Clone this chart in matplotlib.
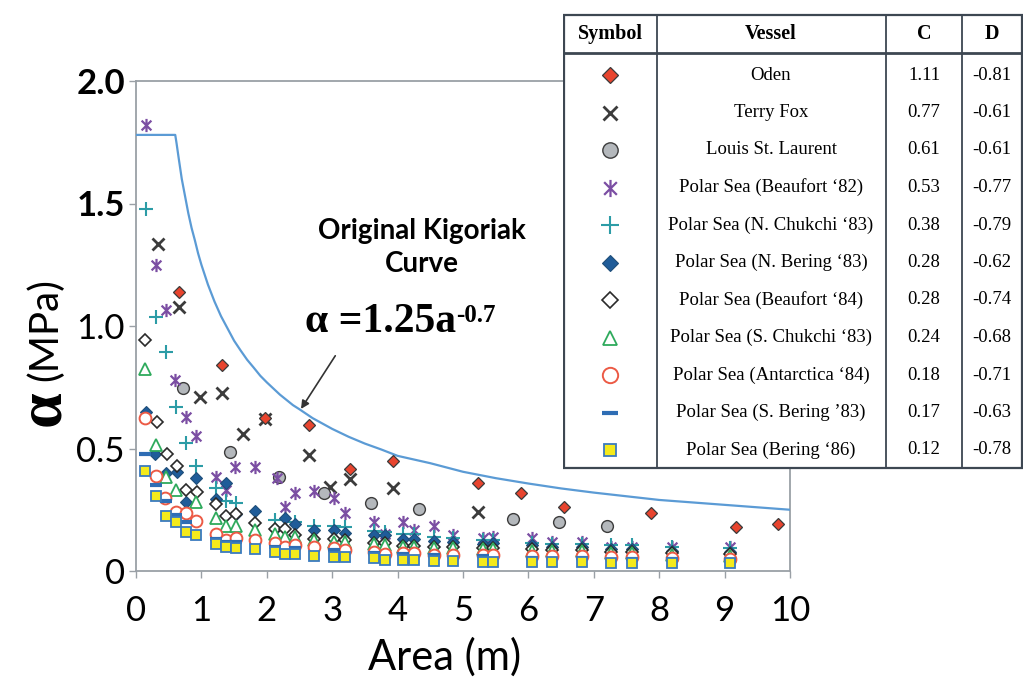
import matplotlib
matplotlib.use("Agg")
import matplotlib.pyplot as plt
from matplotlib.path import Path
from matplotlib.patches import Rectangle

# ---- data ----
curve_x = [0, 0.6, 0.62, 0.65, 0.7, 0.75, 0.8, 0.85, 0.9, 0.95, 1.0, 1.1, 1.2, 1.3, 1.4, 1.5, 1.6, 1.7, 1.8, 1.9,
           2.0, 2.2, 2.4, 2.5, 2.7, 3.0, 3.25, 3.5, 3.75, 4.0, 4.5, 5, 5.5, 6, 6.5, 7, 7.5, 8, 9, 10]
curve_y = [1.78, 1.78, 1.746, 1.69, 1.60, 1.53, 1.46, 1.40, 1.35, 1.296, 1.25, 1.169, 1.10, 1.04, 0.99, 0.94, 0.90,
           0.862, 0.83, 0.797, 0.77, 0.72, 0.677, 0.66, 0.624, 0.58, 0.548, 0.52, 0.496, 0.47, 0.44, 0.405, 0.379,
           0.357, 0.337, 0.32, 0.305, 0.29, 0.27, 0.25]

oden_x = [0.66, 1.32, 1.97, 2.64, 3.27, 3.93, 5.23, 5.89, 6.55, 7.87, 9.17, 9.82]
oden_y = [1.14, 0.84, 0.625, 0.596, 0.415, 0.449, 0.36, 0.32, 0.262, 0.235, 0.18, 0.19]

terry_x = [0.33, 0.66, 0.98, 1.32, 1.64, 1.97, 2.64, 2.96, 3.27, 3.93, 5.23]
terry_y = [1.335, 1.076, 0.711, 0.725, 0.559, 0.62, 0.473, 0.342, 0.376, 0.337, 0.242]

louis_x = [0.72, 1.44, 2.18, 2.88, 3.60, 4.33, 5.76, 6.47, 7.20]
louis_y = [0.746, 0.487, 0.382, 0.32, 0.279, 0.254, 0.213, 0.198, 0.184]

bf82_x = [0.15, 0.31, 0.46, 0.60, 0.76, 0.92, 1.22, 1.38, 1.51, 1.82, 2.16, 2.28, 2.43, 2.72, 3.03, 3.19,
          3.64, 3.80, 4.09, 4.25, 4.55, 4.85, 5.30, 5.46, 6.05, 6.36, 6.82, 7.27, 7.58, 8.19, 9.08]
bf82_y = [1.82, 1.25, 1.065, 0.78, 0.627, 0.551, 0.385, 0.33, 0.426, 0.423, 0.38, 0.262, 0.32, 0.326, 0.297, 0.236,
          0.201, 0.15, 0.201, 0.167, 0.184, 0.147, 0.136, 0.14, 0.136, 0.117, 0.12, 0.1, 0.1, 0.097, 0.097]

nch_x = [0.15, 0.30, 0.46, 0.61, 0.76, 0.92, 1.22, 1.38, 1.53, 2.13, 2.43, 2.72, 3.03, 3.19,
         3.64, 3.80, 4.09, 4.25, 4.55, 4.85, 5.30, 5.46, 6.05, 6.36, 6.82, 7.27, 7.58, 8.19, 9.08]
nch_y = [1.476, 1.035, 0.893, 0.67, 0.524, 0.43, 0.337, 0.285, 0.276, 0.21, 0.2, 0.185, 0.185, 0.18,
         0.165, 0.16, 0.15, 0.15, 0.14, 0.135, 0.125, 0.125, 0.115, 0.11, 0.11, 0.105, 0.105, 0.1, 0.095]

nbe_x = [0.15, 0.29, 0.46, 0.62, 0.76, 0.92, 1.22, 1.38, 1.53, 1.82, 2.13, 2.28, 2.43, 2.72, 3.03, 3.19,
         3.64, 3.80, 4.09, 4.25, 4.55, 4.85, 5.30, 5.46, 6.05, 6.36, 6.82, 7.27, 7.58, 8.19, 9.08]
nbe_y = [0.65, 0.478, 0.399, 0.405, 0.281, 0.38, 0.295, 0.36, 0.234, 0.246, 0.172, 0.215, 0.19, 0.168, 0.166, 0.156,
         0.145, 0.145, 0.131, 0.131, 0.122, 0.119, 0.112, 0.115, 0.105, 0.1, 0.1, 0.09, 0.09, 0.082, 0.078]

bf84_x = [0.14, 0.32, 0.47, 0.62, 0.77, 0.93, 1.22, 1.38, 1.53, 1.82, 2.13, 2.28, 2.43, 2.72, 3.03, 3.19,
          3.64, 3.80, 4.09, 4.25, 4.55, 4.85, 5.30, 5.46, 6.05, 6.36, 6.82, 7.27, 7.58, 8.19, 9.08]
bf84_y = [0.943, 0.608, 0.478, 0.43, 0.332, 0.321, 0.272, 0.224, 0.232, 0.196, 0.17, 0.172, 0.148, 0.13, 0.129, 0.128,
          0.113, 0.113, 0.104, 0.104, 0.1, 0.096, 0.092, 0.092, 0.088, 0.085, 0.085, 0.078, 0.078, 0.072, 0.068]

sch_x = [0.14, 0.31, 0.46, 0.61, 0.92, 1.22, 1.38, 1.53, 1.82, 2.13, 2.28, 2.43, 2.72, 3.03, 3.19,
         3.64, 3.80, 4.09, 4.25, 4.55, 4.85, 5.30, 5.46, 6.05, 6.36, 6.82, 7.27, 7.58, 8.19, 9.08]
sch_y = [0.825, 0.516, 0.384, 0.329, 0.281, 0.215, 0.184, 0.182, 0.168, 0.15, 0.14, 0.14, 0.125, 0.12, 0.118,
         0.11, 0.108, 0.1, 0.1, 0.095, 0.092, 0.088, 0.088, 0.082, 0.08, 0.08, 0.072, 0.072, 0.066, 0.062]

ant_x = [0.14, 0.31, 0.45, 0.61, 0.76, 0.92, 1.22, 1.38, 1.53, 1.82, 2.13, 2.28, 2.43, 2.72, 3.03, 3.19,
         3.64, 3.80, 4.09, 4.25, 4.55, 4.85, 5.30, 5.46, 6.05, 6.36, 6.82, 7.27, 7.58, 8.19, 9.08]
ant_y = [0.623, 0.388, 0.30, 0.242, 0.238, 0.205, 0.149, 0.128, 0.133, 0.127, 0.116, 0.097, 0.106, 0.099, 0.093, 0.085,
         0.078, 0.068, 0.072, 0.072, 0.066, 0.066, 0.064, 0.064, 0.062, 0.06, 0.06, 0.056, 0.056, 0.052, 0.05]

sbe_x = [0.14, 0.31, 0.46, 0.61, 0.76, 1.22, 1.38, 1.53, 2.13, 2.43, 3.03, 3.64, 4.09, 4.55, 5.30, 6.05, 6.82, 7.58, 8.19, 9.08]
sbe_y = [0.478, 0.349, 0.284, 0.23, 0.2, 0.13, 0.12, 0.118, 0.1, 0.092, 0.085, 0.075, 0.07, 0.065, 0.06, 0.055, 0.052, 0.05, 0.048, 0.045]

b86_x = [0.14, 0.31, 0.46, 0.61, 0.76, 0.92, 1.22, 1.38, 1.53, 1.82, 2.13, 2.28, 2.43, 2.72, 3.03, 3.19,
         3.64, 3.80, 4.09, 4.25, 4.55, 4.85, 5.30, 5.46, 6.05, 6.36, 6.82, 7.27, 7.58, 8.19, 9.08]
b86_y = [0.41, 0.305, 0.223, 0.20, 0.159, 0.145, 0.11, 0.1, 0.093, 0.09, 0.076, 0.069, 0.069, 0.063, 0.058, 0.058,
         0.052, 0.046, 0.045, 0.045, 0.042, 0.041, 0.038, 0.038, 0.037, 0.036, 0.035, 0.034, 0.034, 0.033, 0.031]

vessels = ["Oden", "Terry Fox", "Louis St. Laurent", "Polar Sea (Beaufort \u201882)",
           "Polar Sea (N. Chukchi \u201883)", "Polar Sea (N. Bering \u201883)", "Polar Sea (Beaufort \u201884)",
           "Polar Sea (S. Chukchi \u201883)", "Polar Sea (Antarctica \u201884)", "Polar Sea (S. Bering \u201983)",
           "Polar Sea (Bering \u201886)"]
c_vals = ["1.11", "0.77", "0.61", "0.53", "0.38", "0.28", "0.28", "0.24", "0.18", "0.17", "0.12"]
d_vals = ["-0.81", "-0.61", "-0.61", "-0.77", "-0.79", "-0.62", "-0.74", "-0.68", "-0.71", "-0.63", "-0.78"]

# ---- marker styles ----
ast = Path([(-1, -1), (1, 1), (-1, 1), (1, -1), (0, -1.35), (0, 1.35)],
           [Path.MOVETO, Path.LINETO] * 3)

styles = [
    dict(marker="D", ms=6.5, mfc="#E8442E", mec="#3a3a3a", mew=0.9),           # Oden
    dict(marker="x", ms=8, mfc="none", mec="#3c3c3c", mew=2.0),                # Terry Fox
    dict(marker="o", ms=8.5, mfc="#B4B8BC", mec="#3c3c3c", mew=1.0),           # Louis
    dict(marker=ast, ms=9.5, mfc="none", mec="#7B4EA3", mew=1.6),              # Beaufort 82
    dict(marker="+", ms=10, mfc="none", mec="#2C9CA6", mew=1.5),               # N Chukchi
    dict(marker="D", ms=6.5, mfc="#1F5C99", mec="#1F4E79", mew=0.8),           # N Bering
    dict(marker="D", ms=6.5, mfc="white", mec="#2a2a2a", mew=1.2),             # Beaufort 84
    dict(marker="^", ms=8, mfc="white", mec="#2EAA5C", mew=1.3),               # S Chukchi
    dict(marker="o", ms=8.5, mfc="white", mec="#EC5A45", mew=1.4),             # Antarctica
    dict(marker="_", ms=9, mfc="none", mec="#2E6DB4", mew=3.0),                # S Bering
    dict(marker="s", ms=6.5, mfc="#F4EA1C", mec="#3A7BBF", mew=1.3),           # Bering 86
]
series = [(oden_x, oden_y), (terry_x, terry_y), (louis_x, louis_y), (bf82_x, bf82_y),
          (nch_x, nch_y), (nbe_x, nbe_y), (bf84_x, bf84_y), (sch_x, sch_y),
          (ant_x, ant_y), (sbe_x, sbe_y), (b86_x, b86_y)]
zorders = [6, 4, 4, 4, 4, 4, 4, 4, 4, 4, 5]

fig = plt.figure(figsize=(10.24, 6.84), dpi=100)
ax = fig.add_axes([136 / 1024, 1 - 571 / 684, 654 / 1024, 490 / 684])

ax.plot(curve_x, curve_y, color="#5B9BD5", lw=1.6, zorder=3)
for (xs, ys), st, z in zip(series, styles, zorders):
    ax.plot(xs, ys, ls="none", zorder=z, **st)

ax.set_xlim(0, 10)
ax.set_ylim(0, 2.0)
ax.set_xticks(range(0, 11))
ax.set_yticks([0, 0.5, 1.0, 1.5, 2.0])
ax.set_yticklabels(["0", "0.5", "1.0", "1.5", "2.0"])
for sp in ax.spines.values():
    sp.set_color("#9aa0a6")
    sp.set_linewidth(1.3)
ax.tick_params(axis="both", direction="out", length=5, color="#9aa0a6", width=1)
ax.tick_params(axis="x", pad=12)
ax.tick_params(axis="y", pad=3)
for lab in ax.get_xticklabels():
    lab.set_fontfamily("Lato")
    lab.set_fontsize(25)
for lab in ax.get_yticklabels():
    lab.set_fontfamily("Lato")
    lab.set_fontsize(25)
    if lab.get_text() in ("2.0", "1.5"):
        lab.set_fontweight("bold")

# axis labels
fig.text(445 / 1024, 1 - 657 / 684, "Area (m)", family="Lato", fontsize=30,
         ha="center", va="center")
fig.text(45 / 1024, 1 - 330 / 684, "(MPa)", family="Lato", fontsize=29,
         ha="center", va="center", rotation=90)
fig.text(44 / 1024, 1 - 408 / 684, "\u03b1", family="Liberation Serif", fontweight="bold",
         fontsize=46, ha="center", va="center", rotation=90)

# annotations
ax.text(4.37, 1.32, "Original Kigoriak\nCurve", family="Lato", fontweight="bold",
        fontsize=20, ha="center", va="center", linespacing=1.3)
eq = ax.text(2.58, 0.975, "\u03b1 =1.25a", family="Liberation Serif", fontweight="bold",
             fontsize=30, ha="left", va="baseline")
ax.annotate("-0.7", xy=(1.0, 0.97), xycoords=eq, family="Liberation Serif",
            fontweight="bold", fontsize=18, ha="left", va="top")
ax.annotate("", xy=(2.50, 0.652), xytext=(3.07, 0.888),
            arrowprops=dict(arrowstyle="-|>", color="#333333", lw=1.2, mutation_scale=12))

# ---- table ----
tx = fig.add_axes([563 / 1024, 1 - 470 / 684, 460 / 1024, 457 / 684])
tx.set_xlim(563, 1023)
tx.set_ylim(470, 13)
tx.axis("off")
line_c = "#3d4752"
tx.add_patch(Rectangle((564, 15), 458, 453, fc="white", ec=line_c, lw=1.6, zorder=1))
tx.plot([564, 1022], [53, 53], color=line_c, lw=2.0, zorder=2)
for cx in [657, 886, 962]:
    tx.plot([cx, cx], [15, 468], color=line_c, lw=1.3, zorder=2)

col_centers = [610, 771, 924, 992]
for txt, cx in zip(["Symbol", "Vessel", "C", "D"], col_centers):
    tx.text(cx, 34, txt, family="Liberation Serif", fontweight="bold", fontsize=14.5,
            ha="center", va="center", zorder=3)

row_y0, row_dy = 75, 37.5
for i, (name, c, d, st) in enumerate(zip(vessels, c_vals, d_vals, styles)):
    yy = row_y0 + i * row_dy
    big = dict(st)
    big["ms"] = st["ms"] * 1.3
    tx.plot([col_centers[0]], [yy], ls="none", zorder=3, **big)
    tx.text(col_centers[1], yy, name, family="Liberation Serif", fontsize=13.5,
            ha="center", va="center", zorder=3)
    tx.text(col_centers[2], yy, c, family="Liberation Serif", fontsize=13.5,
            ha="center", va="center", zorder=3)
    tx.text(col_centers[3], yy, d, family="Liberation Serif", fontsize=13.5,
            ha="center", va="center", zorder=3)

fig.savefig("out.png", dpi=100, facecolor="white")
